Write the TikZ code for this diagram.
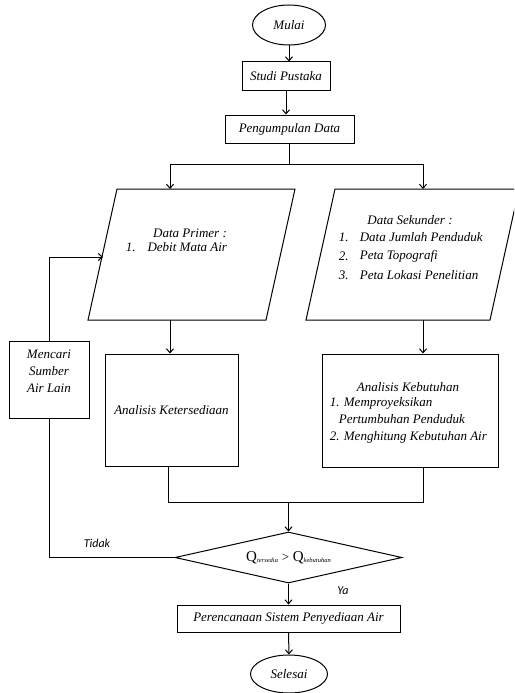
\documentclass[tikz,border=0pt]{standalone}
\usepackage{fontspec}
\setmainfont{Liberation Serif}
\newfontfamily\lblfont{Carlito}
\usetikzlibrary{arrows.meta,shapes.geometric}
\begin{document}
\begin{tikzpicture}[x=1pt,y=-1pt,line width=1pt,
  arr/.style={-{Straight Barb[length=4pt,width=7pt]}},
  box/.style={draw,rectangle,inner sep=0pt},
  txt/.style={font=\fontsize{13}{16}\selectfont\itshape},
  lbl/.style={font=\fontsize{12}{14}\selectfont\lblfont\itshape}]
\useasboundingbox (0,0) rectangle (514,693);
\clip (0,0) rectangle (514,693);

% terminals and process boxes
\node[draw,ellipse,minimum width=73pt,minimum height=40pt,inner sep=0pt,txt] (mulai) at (289,25) {Mulai};
\node[box,minimum width=88pt,minimum height=28pt,txt] (studi) at (286,76) {Studi Pustaka};
\node[box,minimum width=129pt,minimum height=28pt,txt] (peng) at (289.5,129) {Pengumpulan Data};

% parallelograms
\draw (117,189) -- (295,189) -- (266,320) -- (88,320) -- cycle;
\draw (335,189) -- (519,189) -- (490,320) -- (306,320) -- cycle;
\coordinate (primT) at (170,189);
\coordinate (primB) at (170,320);
\coordinate (sekT) at (423,189);
\coordinate (sekB) at (423,320);
\coordinate (entry) at (103,257);

\node[txt] (prim0) at (190,233) {Data Primer :};
\node[txt,anchor=west] (prim1) at (122,247) {1.\hspace{12pt}Debit Mata Air};
\node[txt] (sek0) at (410,220) {Data Sekunder :};
\node[txt,anchor=west] (sek1n) at (335,237) {1.};
\node[txt,anchor=west] (sek1) at (356,237) {Data Jumlah Penduduk};
\node[txt,anchor=west] (sek2n) at (335,256) {2.};
\node[txt,anchor=west] (sek2) at (356,256) {Peta Topografi};
\node[txt,anchor=west] (sek3n) at (335,275) {3.};
\node[txt,anchor=west] (sek3) at (356,275) {Peta Lokasi Penelitian};

% analysis boxes
\node[box,minimum width=133pt,minimum height=112pt,txt] (ket) at (171.5,410) {Analisis Ketersediaan};
\node[box,minimum width=176pt,minimum height=113pt] (keb) at (410,410.5) {};
\node[txt] (keb0) at (408,387) {Analisis Kebutuhan};
\node[txt,anchor=west] (keb1) at (326,403) {1. Memproyeksikan};
\node[txt,anchor=west] (keb2) at (335,419) {Pertumbuhan Penduduk};
\node[txt,anchor=west] (keb3) at (326,437) {2. Menghitung Kebutuhan Air};

\node[box,minimum width=80pt,minimum height=77pt] (mencari) at (49,379.5) {};
\node[txt,align=center,font=\fontsize{13}{17}\selectfont\itshape] (mencarit) at (49,371) {Mencari\\Sumber\\Air Lain};

% decision
\node[draw,diamond,aspect=4.45,minimum width=227pt,minimum height=51pt,inner sep=0pt] (dec) at (288.5,557.5)
  {\fontsize{15}{17}\selectfont Q\raisebox{-1.5pt}{\fontsize{6.5}{7}\selectfont\itshape tersedia}\ {\fontsize{13}{15}\selectfont >}\ Q\raisebox{-1.5pt}{\fontsize{6.5}{7}\selectfont\itshape kebutuhan}};

\node[box,minimum width=223pt,minimum height=27pt,txt] (plan) at (288.5,618.5) {Perencanaan Sistem Penyediaan Air};
\node[draw,ellipse,minimum width=77pt,minimum height=38pt,inner sep=0pt,txt] (selesai) at (289,674) {Selesai};

\node[lbl] (tidak) at (97,543) {Tidak};
\node[lbl] (ya) at (343,591) {Ya};

% connectors
\draw[arr] (mulai.south) -- (mulai.south |- studi.north);
\draw[arr] (studi.south) -- (studi.south |- peng.north);
\coordinate (split) at (289.5,164);
\coordinate (splitL) at (170,164);
\coordinate (splitR) at (423,164);
\draw (peng.south) -- (split);
\draw (splitL) -- (splitR);
\draw[arr] (splitL) -- (primT);
\draw[arr] (splitR) -- (sekT);
\draw[arr] (primB) -- (primB |- ket.north);
\draw[arr] (sekB) -- (sekB |- keb.north);

\coordinate (mL) at (168,502);
\coordinate (mR) at (423,502);
\coordinate (m) at (288.5,502);
\draw (ket.south -| mL) -- (mL) -- (mR) -- (keb.south -| mR);
\draw[arr] (m) -- (dec.north);

\coordinate (tk) at (mencari.south |- dec.west);
\draw (dec.west) -- (tk) -- (mencari.south);
\draw[arr] (mencari.north) |- (entry);

\draw[arr] (dec.south) -- (plan.north);
\draw[arr] (plan.south) -- (selesai.north);
\end{tikzpicture}
\end{document}
